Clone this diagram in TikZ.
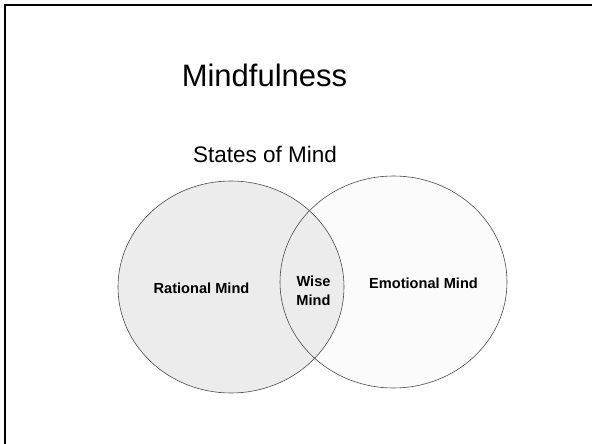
\documentclass[tikz,border=0pt]{standalone}
\usepackage{fontspec}
\setmainfont{Liberation Sans}
\usetikzlibrary{positioning}
\definecolor{ratgrey}{HTML}{ECECEC}
\definecolor{emogrey}{HTML}{FBFBFB}
\definecolor{rim}{HTML}{4A4A4A}
\tikzset{
  heading/.style={anchor=base,inner sep=0pt,font=\fontsize{31}{37}\selectfont},
  subheading/.style={anchor=base,inner sep=0pt,font=\fontsize{22.5}{27}\selectfont},
  mindlabel/.style={anchor=base,inner sep=0pt,align=center,
    font=\fontsize{14.6}{18.5}\selectfont\bfseries},
  rimline/.style={draw=rim,line width=0.6pt},
}

\begin{document}
\begin{tikzpicture}[x=1pt,y=-1pt]
    \useasboundingbox (0,0) rectangle (592,444);
    % slide frame, only top and left edges
    \draw[line width=2.4pt] (4.8,444) -- (4.8,4.8) -- (592,4.8);
    \node[heading] (title) at (264.5,87) {Mindfulness};
    \node[subheading] (states) at (265,162) {States of Mind};
    % the two circles of mind, filled first, rims after
    \fill[emogrey] (393.5,282) ellipse [x radius=113.5, y radius=106];
    \fill[ratgrey] (231,287) ellipse [x radius=113, y radius=106];
    \draw[rimline] (393.5,282) ellipse [x radius=113.5, y radius=106];
    \draw[rimline] (231,287) ellipse [x radius=113, y radius=106];
    \node[mindlabel] (rational) at (201.5,293.3) {Rational Mind};
    \node[mindlabel] (emotional) at (423.5,288.3) {Emotional Mind};
    \node[mindlabel,anchor=south] (wise) at (313.5,305.7) {Wise\\Mind};
  \end{tikzpicture}
\end{document}
